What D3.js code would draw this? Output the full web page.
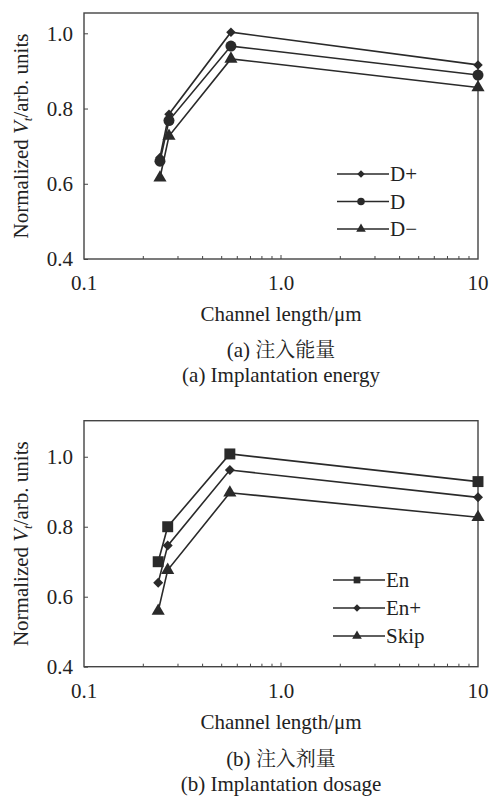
<!DOCTYPE html>
<html>
<head>
<meta charset="utf-8">
<script src="https://cdn.jsdelivr.net/npm/d3@7"></script>
<style>
  body { margin: 0; background: #fff; }
</style>
</head>
<body>
<div id="vis"></div>
<script>
// channel lengths (um)
let lengthsA = [0.243, 0.27, 0.557, 10];
let lengthsB = [0.238, 0.266, 0.55, 10];

// panel (a) implantation energy
let seriesA = ['D+', 'D', 'D\u2212'];
let dPlus  = [0.67, 0.785, 1.003, 0.916];
let dMid   = [0.66, 0.768, 0.966, 0.889];
let dMinus = [0.616, 0.727, 0.932, 0.856];

// panel (b) implantation dosage
let seriesB = ['En', 'En+', 'Skip'];
let en     = [0.70, 0.80, 1.008, 0.929];
let enPlus = [0.64, 0.746, 0.962, 0.884];
let skip   = [0.559, 0.676, 0.897, 0.827];

let yTicks = [0.4, 0.6, 0.8, 1.0];
let xTicks = [0.1, 1, 10];
let xTickLabels = ['0.1', '1.0', '10'];

let serif = "'Liberation Serif'";
let cjk = "'Noto Serif CJK SC'";
let fs = 21;

let W = 490, H = 796;
let svg = d3.select('#vis').append('svg')
  .attr('width', W).attr('height', H)
  .attr('viewBox', [0, 0, W, H].join(' '))
  .attr('font-family', serif);

let ink = '#2a2a2a';

function marker(g, type, size) {
  let sym = {
    diamond: d3.symbolSquare,
    circle: d3.symbolCircle,
    triangle: d3.symbolTriangle,
    square: d3.symbolSquare
  }[type];
  g.append('path')
    .attr('d', d3.symbol().type(sym).size(size))
    .attr('transform', type == 'diamond' ? 'rotate(45)' : null)
    .attr('fill', ink);
}

function label(sel) {
  return sel.attr('font-family', serif).attr('fill', '#222');
}

function panel(cfg) {
  let g = svg.append('g');
  let x = d3.scaleLog().domain([0.1, 10]).range([84, 478]);
  let y = d3.scaleLinear().domain(cfg.yDomain).range([cfg.bottom, cfg.top]);

  // frame
  g.append('rect')
    .attr('x', 84).attr('y', cfg.top)
    .attr('width', 478 - 84).attr('height', cfg.bottom - cfg.top)
    .attr('fill', 'none').attr('stroke', '#444').attr('stroke-width', 1.4);

  // y axis, ticks inward
  let yAxis = d3.axisLeft(y).tickValues(yTicks).tickSize(-4).tickPadding(11)
    .tickFormat(d3.format('.1f'));
  let ya = g.append('g').attr('transform', 'translate(84,0)').call(yAxis)
    .attr('font-family', serif);
  ya.select('.domain').remove();
  ya.selectAll('line').attr('stroke', '#444');
  label(ya.selectAll('text')).attr('font-size', fs);

  // x axis, minor ticks inward
  let minor = [];
  [0.1, 1].forEach(function(dec) {
    for (let k = 2; k <= 9; k++) minor.push(dec * k);
  });
  let xa = g.append('g').attr('transform', 'translate(0,' + cfg.bottom + ')');
  xa.selectAll('line.minor').data(minor).join('line')
    .attr('x1', d => x(d)).attr('x2', d => x(d))
    .attr('y1', 0).attr('y2', -3)
    .attr('stroke', '#444');
  xa.selectAll('line.major').data([1]).join('line')
    .attr('x1', d => x(d)).attr('x2', d => x(d))
    .attr('y1', 0).attr('y2', -4)
    .attr('stroke', '#444');
  label(xa.selectAll('text').data(xTicks).join('text'))
    .attr('x', d => x(d)).attr('y', 31)
    .attr('text-anchor', 'middle')
    .attr('font-size', fs)
    .text((d, i) => xTickLabels[i]);

  // lines and markers
  cfg.series.forEach(function(s, si) {
    let pts = cfg.lengths.map((l, i) => [l, s.values[i]]);
    g.append('path')
      .attr('d', d3.line().x(d => x(d[0])).y(d => y(d[1]))(pts))
      .attr('fill', 'none').attr('stroke', ink).attr('stroke-width', 1.6);
    pts.forEach(function(p) {
      let m = g.append('g').attr('transform', 'translate(' + x(p[0]) + ',' + y(p[1]) + ')');
      marker(m, s.shape, s.size);
    });

    // legend
    let ly = cfg.legendY + si * cfg.legendStep;
    let lg = g.append('g').attr('transform', 'translate(' + cfg.legendX + ',' + ly + ')');
    lg.append('line').attr('x1', 0).attr('x2', 52).attr('y1', 0).attr('y2', 0)
      .attr('stroke', ink).attr('stroke-width', 1.6);
    let lm = lg.append('g').attr('transform', 'translate(24,0)');
    marker(lm, s.shape, s.legendSize);
    label(lg.append('text')).attr('x', 53).attr('y', 7)
      .attr('font-size', fs).text(s.name);
  });

  // y title
  let yt = label(g.append('text'))
    .attr('transform', 'translate(28,' + ((cfg.top + cfg.bottom) / 2) + ') rotate(-90)')
    .attr('text-anchor', 'middle')
    .attr('font-size', fs);
  yt.append('tspan').text('Normalized ');
  yt.append('tspan').attr('font-style', 'italic').text('V');
  yt.append('tspan').attr('font-style', 'italic').attr('font-size', 13).attr('dy', 4).text('t');
  yt.append('tspan').attr('dy', -4).text('/arb. units');

  // x title and captions
  label(g.append('text')).attr('x', 281).attr('y', cfg.bottom + 62)
    .attr('text-anchor', 'middle').attr('font-size', fs)
    .text('Channel length/\u03bcm');
  let c1 = label(g.append('text')).attr('x', 281).attr('y', cfg.bottom + cfg.cap1)
    .attr('text-anchor', 'middle').attr('font-size', fs);
  c1.append('tspan').text(cfg.capLetter + ' ');
  c1.append('tspan').attr('font-family', cjk).attr('font-size', 20).text(cfg.capCn);
  label(g.append('text')).attr('x', 281).attr('y', cfg.bottom + cfg.cap2)
    .attr('text-anchor', 'middle').attr('font-size', fs)
    .text(cfg.capLetter + ' ' + cfg.capEn);
}

panel({
  top: 13, bottom: 259, yDomain: [0.4, 1.054],
  lengths: lengthsA,
  series: [
    { name: seriesA[0], values: dPlus, shape: 'diamond', size: 45, legendSize: 28 },
    { name: seriesA[1], values: dMid, shape: 'circle', size: 95, legendSize: 45 },
    { name: seriesA[2], values: dMinus, shape: 'triangle', size: 75, legendSize: 40 }
  ],
  legendX: 337, legendY: 174, legendStep: 27.5,
  capLetter: '(a)', capCn: '注入能量', capEn: 'Implantation energy',
  cap1: 98, cap2: 123
});

panel({
  top: 420.7, bottom: 666.7, yDomain: [0.4, 1.103],
  lengths: lengthsB,
  series: [
    { name: seriesB[0], values: en, shape: 'square', size: 120, legendSize: 45 },
    { name: seriesB[1], values: enPlus, shape: 'diamond', size: 50, legendSize: 28 },
    { name: seriesB[2], values: skip, shape: 'triangle', size: 75, legendSize: 40 }
  ],
  legendX: 333, legendY: 580, legendStep: 28,
  capLetter: '(b)', capCn: '注入剂量', capEn: 'Implantation dosage',
  cap1: 99, cap2: 124
});
</script>
</body>
</html>
